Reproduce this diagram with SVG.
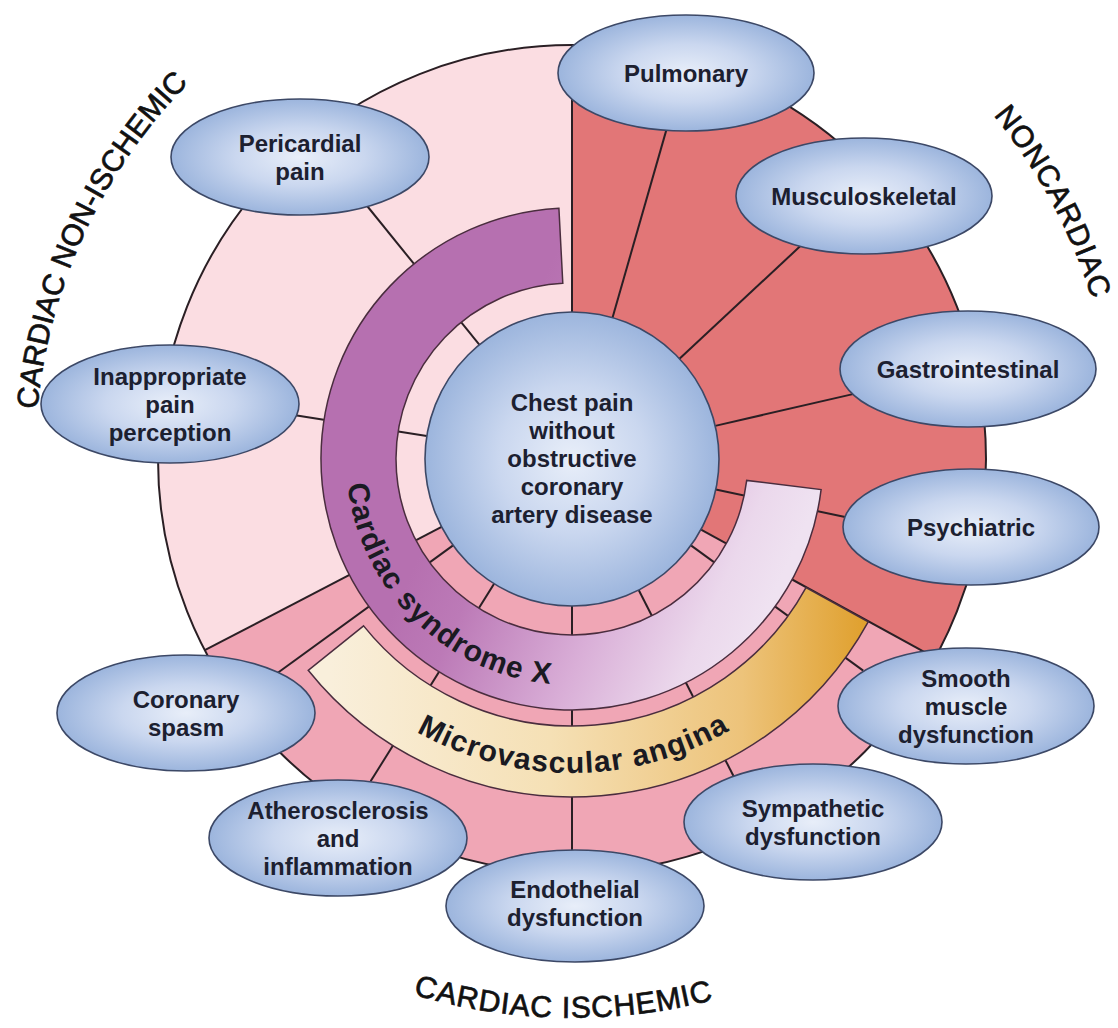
<svg xmlns="http://www.w3.org/2000/svg" width="1118" height="1028" viewBox="0 0 1118 1028">
<defs>
  <radialGradient id="blue" cx="0.5" cy="0.5" r="0.5">
    <stop offset="0" stop-color="#E8EEF9"/>
    <stop offset="0.5" stop-color="#CAD7EF"/>
    <stop offset="1" stop-color="#9CB5DD"/>
  </radialGradient>
  <linearGradient id="csx" gradientUnits="userSpaceOnUse" x1="480" y1="420" x2="790" y2="560">
    <stop offset="0" stop-color="#B670B0"/>
    <stop offset="0.18" stop-color="#BC7AB7"/>
    <stop offset="0.55" stop-color="#D9AED7"/>
    <stop offset="0.85" stop-color="#EBD8EC"/>
    <stop offset="1" stop-color="#EFE2F1"/>
  </linearGradient>
  <linearGradient id="ma" gradientUnits="userSpaceOnUse" x1="330" y1="0" x2="880" y2="0">
    <stop offset="0" stop-color="#F9EFDB"/>
    <stop offset="0.4" stop-color="#F5E0B5"/>
    <stop offset="0.75" stop-color="#EDC37A"/>
    <stop offset="1" stop-color="#DE9C25"/>
  </linearGradient>
  <path id="pCSX" d="M 347.5 484.6 A 226 226 0 0 0 745.1 604.3"/>
  <path id="pMA" d="M 416.4 731.7 A 314 314 0 0 0 812.5 660.8"/>
  <path id="pNI" d="M 37.3 409.4 A 537 537 0 0 1 264 19.1"/>
  <path id="pNC" d="M 993.5 115.2 A 544 544 0 0 1 1107.7 364.6"/>
  <path id="pCI" d="M 413.2 994.5 A 559 559 0 0 0 763.2 984.3"/>
</defs>
<style>
  .ln{stroke:#2A1F24;stroke-width:2;fill:none;stroke-linecap:butt}
  .node ellipse,.node circle{fill:url(#blue);stroke:#3C4866;stroke-width:1.6}
  .lbl{font-family:"Liberation Sans",Arial,sans-serif;font-weight:bold;font-size:24px;fill:#1C2030;text-anchor:middle}
  .band{stroke:#4A2D3E;stroke-width:1.5}
  .bandtxt{font-family:"Liberation Sans",Arial,sans-serif;font-weight:bold;font-size:30px;fill:#1A1A22}
  .cat{font-family:"Liberation Sans",Arial,sans-serif;font-size:30px;fill:#111;stroke:#111;stroke-width:0.7}
</style>
<rect width="1118" height="1028" fill="#FFFFFF"/>

<g id="sectors">
  <path id="sector-noncardiac" d="M 572 459 L 572 45 A 414 414 0 0 1 935.1 657.8 Z" fill="#E27677"/>
  <path id="sector-ischemic" d="M 572 459 L 935.1 657.8 A 414 414 0 0 1 204.8 650.2 Z" fill="#F0A6B5"/>
  <path id="sector-nonischemic" d="M 572 459 L 204.8 650.2 A 414 414 0 0 1 572 45 Z" fill="#FBDDE2"/>
  <circle cx="572" cy="459" r="414" fill="none" stroke="#2A1F24" stroke-width="2"/>
</g>

<g id="connectors">
  <line class="ln" x1="572" y1="312" x2="572" y2="45"/>
  <line class="ln" x1="612.5" y1="317.7" x2="667.1" y2="127.4"/>
  <line class="ln" x1="679.5" y1="358.7" x2="806" y2="240.8"/>
  <line class="ln" x1="715.2" y1="425.9" x2="859.4" y2="392.6"/>
  <line class="ln" x1="715.8" y1="489.6" x2="855.7" y2="519.3"/>
  <line class="ln" x1="701" y1="529.6" x2="935.1" y2="657.8"/>
  <line class="ln" x1="690.9" y1="545.4" x2="863.2" y2="670.6"/>
  <line class="ln" x1="638.7" y1="590" x2="735.4" y2="779.8"/>
  <line class="ln" x1="572" y1="606" x2="572" y2="860"/>
  <line class="ln" x1="494.1" y1="583.7" x2="370.6" y2="781.3"/>
  <line class="ln" x1="453.1" y1="545.4" x2="272.7" y2="676.5"/>
  <line class="ln" x1="441.6" y1="526.9" x2="204.8" y2="650.2"/>
  <line class="ln" x1="426.8" y1="436" x2="290.5" y2="414.4"/>
  <line class="ln" x1="479.5" y1="344.8" x2="364.3" y2="202.5"/>
</g>

<g id="band-csx">
  <path class="band" d="M 821.1 489.6 A 251 251 0 1 1 558.9 208.3 L 562.8 283.2 A 176 176 0 1 0 746.7 480.4 Z" fill="url(#csx)"/>
  <text class="bandtxt" letter-spacing="1"><textPath href="#pCSX">Cardiac syndrome X</textPath></text>
</g>

<g id="band-ma">
  <path class="band" d="M 868.2 621.8 A 338 338 0 0 1 308.2 670.3 L 363.6 625.9 A 267 267 0 0 0 806 587.6 Z" fill="url(#ma)"/>
  <text class="bandtxt" letter-spacing="1.1"><textPath href="#pMA">Microvascular angina</textPath></text>
</g>

<g id="n-center" class="node">
  <circle cx="572" cy="459" r="147"/>
  <text class="lbl"><tspan x="572" y="411">Chest pain</tspan><tspan x="572" y="439">without</tspan><tspan x="572" y="467">obstructive</tspan><tspan x="572" y="495">coronary</tspan><tspan x="572" y="523">artery disease</tspan></text>
</g>

<g id="n-pulmonary" class="node">
  <ellipse cx="686" cy="73" rx="128" ry="58"/>
  <text class="lbl" x="686" y="81.5">Pulmonary</text>
</g>
<g id="n-musculoskeletal" class="node">
  <ellipse cx="864" cy="196" rx="128" ry="58"/>
  <text class="lbl" x="864" y="204.5">Musculoskeletal</text>
</g>
<g id="n-gastrointestinal" class="node">
  <ellipse cx="968" cy="369" rx="128" ry="58"/>
  <text class="lbl" x="968" y="377.5">Gastrointestinal</text>
</g>
<g id="n-psychiatric" class="node">
  <ellipse cx="971" cy="527" rx="128" ry="58"/>
  <text class="lbl" x="971" y="535.5">Psychiatric</text>
</g>
<g id="n-smooth" class="node">
  <ellipse cx="966" cy="706" rx="128" ry="58"/>
  <text class="lbl"><tspan x="966" y="686.5">Smooth</tspan><tspan x="966" y="714.5">muscle</tspan><tspan x="966" y="742.5">dysfunction</tspan></text>
</g>
<g id="n-sympathetic" class="node">
  <ellipse cx="813" cy="822" rx="129" ry="58"/>
  <text class="lbl"><tspan x="813" y="816.5">Sympathetic</tspan><tspan x="813" y="844.5">dysfunction</tspan></text>
</g>
<g id="n-endothelial" class="node">
  <ellipse cx="575" cy="906" rx="129" ry="56"/>
  <text class="lbl"><tspan x="575" y="898">Endothelial</tspan><tspan x="575" y="926">dysfunction</tspan></text>
</g>
<g id="n-atherosclerosis" class="node">
  <ellipse cx="338" cy="838" rx="129" ry="58"/>
  <text class="lbl"><tspan x="338" y="818.5">Atherosclerosis</tspan><tspan x="338" y="846.5">and</tspan><tspan x="338" y="874.5">inflammation</tspan></text>
</g>
<g id="n-coronary" class="node">
  <ellipse cx="186" cy="713" rx="129" ry="58"/>
  <text class="lbl"><tspan x="186" y="707.5">Coronary</tspan><tspan x="186" y="735.5">spasm</tspan></text>
</g>
<g id="n-inappropriate" class="node">
  <ellipse cx="170" cy="404" rx="129" ry="59"/>
  <text class="lbl"><tspan x="170" y="384.5">Inappropriate</tspan><tspan x="170" y="412.5">pain</tspan><tspan x="170" y="440.5">perception</tspan></text>
</g>
<g id="n-pericardial" class="node">
  <ellipse cx="300" cy="157" rx="129" ry="58"/>
  <text class="lbl"><tspan x="300" y="151.5">Pericardial</tspan><tspan x="300" y="179.5">pain</tspan></text>
</g>

<g id="categories">
  <text class="cat" font-size="29"><textPath href="#pNI">CARDIAC NON-ISCHEMIC</textPath></text>
  <text class="cat" letter-spacing="0.9"><textPath href="#pNC">NONCARDIAC</textPath></text>
  <text class="cat" letter-spacing="0.9"><textPath href="#pCI">CARDIAC ISCHEMIC</textPath></text>
</g>
</svg>
